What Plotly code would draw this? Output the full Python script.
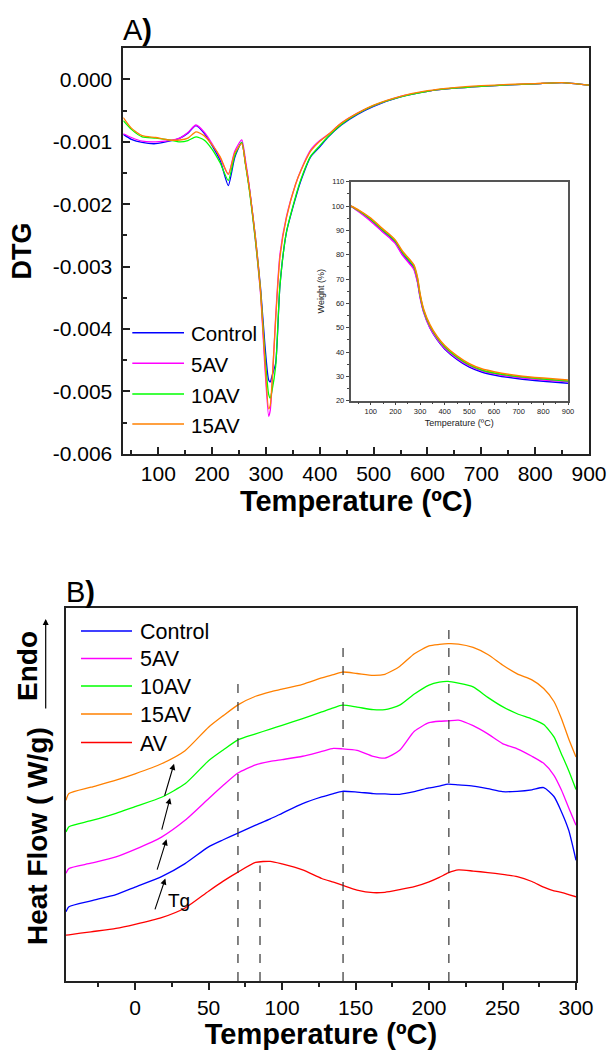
import plotly.graph_objects as go

W, H = 609, 1050
FONT = "Arial, Liberation Sans, sans-serif"

# ---------------- data ----------------
series_names = ["Control", "5AV", "10AV", "15AV"]
dsc_names = ["Control", "5AV", "10AV", "15AV", "AV"]
series_colors = ["#0000FF", "#FF00FF", "#00FF00", "#FF8000", "#FF0000"]

# Panel A: DTG curves
T_dtg = [35, 50, 70, 95, 120, 140, 155, 170, 185, 200, 215, 230, 242, 255, 262, 270, 280, 290, 298,
         305, 308, 311, 318, 326, 338, 355, 365, 383, 400, 416, 440, 470, 500, 550, 600, 650, 700,
         750, 800, 850, 900]
dtg_control = [-0.00088, -0.00096, -0.00101, -0.00103, -0.00099, -0.00094, -0.00086, -0.00074, -0.00086,
               -0.00106, -0.00130, -0.00170, -0.00125, -0.00101, -0.00135, -0.00180, -0.00250, -0.00335,
               -0.00425, -0.00482, -0.00485, -0.00476, -0.00455, -0.00330, -0.00245, -0.00190, -0.00162,
               -0.00124, -0.00108, -0.00092, -0.00073, -0.00056, -0.00043, -0.00028, -0.00019, -0.00014,
               -0.00011, -0.000085, -0.00007, -0.00005, -0.00009]
dtg_5av = [-0.00087, -0.00093, -0.00099, -0.00100, -0.00098, -0.00094, -0.00085, -0.00073, -0.00084,
           -0.00103, -0.00126, -0.00152, -0.00115, -0.00097, -0.00130, -0.00178, -0.00255, -0.00345,
           -0.00460, -0.00540, -0.00530, -0.00495, -0.00380, -0.00280, -0.00220, -0.00168, -0.00145,
           -0.00113, -0.00098, -0.00088, -0.00070, -0.00054, -0.00042, -0.00027, -0.00019, -0.00014,
           -0.00011, -0.000085, -0.00007, -0.00005, -0.00009]
dtg_10av = [-0.00066, -0.00080, -0.00092, -0.00094, -0.00097, -0.00100, -0.00098, -0.00092, -0.00097,
            -0.00112, -0.00134, -0.00162, -0.00122, -0.00101, -0.00137, -0.00183, -0.00255, -0.00340,
            -0.00440, -0.00505, -0.00511, -0.00500, -0.00460, -0.00330, -0.00245, -0.00188, -0.00160,
            -0.00123, -0.00106, -0.00091, -0.00072, -0.00055, -0.00042, -0.00028, -0.00019, -0.00014,
            -0.00011, -0.000085, -0.00007, -0.00005, -0.00009]
dtg_15av = [-0.00061, -0.00078, -0.00090, -0.00093, -0.00097, -0.00097, -0.00094, -0.00084, -0.00090,
            -0.00105, -0.00124, -0.00152, -0.00118, -0.00103, -0.00135, -0.00180, -0.00250, -0.00340,
            -0.00450, -0.00528, -0.00522, -0.00490, -0.00385, -0.00285, -0.00222, -0.00168, -0.00146,
            -0.00115, -0.00099, -0.00088, -0.00070, -0.00054, -0.00041, -0.00027, -0.00018, -0.00013,
            -0.00010, -0.00008, -0.000065, -0.00005, -0.00009]
dtg_ytick_vals = [0.0, -0.001, -0.002, -0.003, -0.004, -0.005, -0.006]
dtg_ytick_text = ["0.000", "-0.001", "-0.002", "-0.003", "-0.004", "-0.005", "-0.006"]

# Inset: TGA weight curves
T_tga = [20, 50, 100, 150, 180, 200, 230, 260, 275, 290, 300, 315, 340, 370, 400, 450, 500, 550, 600,
         700, 800, 900]
tga_control = [100, 98, 94.2, 89.5, 87, 85, 80, 76.5, 74.5, 69, 63, 56.5, 50, 45, 41.3, 37, 33.8, 31.8,
               30.6, 29, 28, 27.2]
tga_5av = [100, 97.8, 93.8, 89.2, 86.6, 84.6, 79.6, 76, 74, 68.5, 62.5, 56.2, 50, 45.2, 41.6, 37.4, 34.3,
           32.3, 31.1, 29.5, 28.5, 27.8]
tga_10av = [100, 98.2, 94.6, 90, 87.5, 85.5, 80.8, 77.2, 75.2, 70, 63.5, 57, 50.8, 45.8, 42.2, 37.9, 34.7,
            32.6, 31.4, 29.9, 28.9, 28.1]
tga_15av = [100, 98.4, 95, 90.5, 88, 86, 81.3, 77.8, 75.8, 70.5, 64, 57.5, 51.3, 46.3, 42.7, 38.4, 35.2,
            33.1, 31.9, 30.3, 29.3, 28.5]

# Panel B: DSC curves (arbitrary, offset heat-flow units)
T_dsc = [-47, -45, -30, -13, 0, 18, 34, 50, 60, 70, 82, 92, 100, 114, 127, 135, 141, 151, 162, 170, 180,
         190, 200, 207, 213, 220, 230, 240, 250, 260, 270, 278, 285, 290, 295, 300]
dsc_control = [18.6, 19.9, 21.5, 23.2, 25.2, 28.0, 31.5, 36.0, 37.9, 39.7, 41.8, 43.5, 45.0, 47.6, 49.4,
               50.3, 50.9, 50.7, 50.3, 50.2, 50.1, 50.8, 51.8, 52.3, 52.8, 52.6, 52.3, 51.6, 50.8, 50.9,
               51.3, 51.9, 49.5, 45.5, 40.5, 32.4]
dsc_5av = [28.9, 30.2, 31.6, 33.3, 35.3, 38.6, 43.1, 48.9, 52.5, 55.8, 58.0, 58.9, 59.4, 60.3, 61.6, 62.4,
           62.3, 61.9, 60.3, 59.8, 61.9, 67.0, 69.3, 69.7, 69.8, 70.0, 68.5, 66.3, 63.7, 62.3, 60.3, 58.4,
           55.2, 51.3, 46.5, 41.8]
dsc_10av = [40.0, 41.4, 43.0, 45.0, 46.8, 49.3, 52.9, 59.1, 62.0, 64.7, 66.3, 67.6, 68.6, 70.4, 72.2, 73.3,
            74.0, 73.5, 72.8, 72.8, 74.0, 77.0, 79.4, 80.2, 80.4, 79.9, 78.9, 76.1, 73.6, 71.7, 70.3, 68.8,
            65.5, 61.0, 56.5, 51.4]
dsc_15av = [48.5, 50.3, 52.0, 53.9, 55.6, 58.3, 61.8, 68.1, 71.2, 74.1, 76.4, 77.6, 78.3, 79.6, 81.3, 82.2,
            82.9, 82.5, 82.0, 82.3, 84.4, 87.8, 89.9, 90.3, 90.5, 90.4, 89.5, 87.6, 84.8, 82.4, 80.8, 78.5,
            75.0, 70.5, 65.0, 60.1]
dsc_av = [12.3, 12.4, 13.2, 14.1, 15.2, 17.0, 19.6, 24.1, 26.8, 29.2, 31.8, 32.1, 31.4, 29.8, 27.5, 26.5,
          25.7, 24.4, 23.7, 23.8, 24.5, 25.3, 26.6, 27.8, 29.0, 29.8, 29.5, 29.1, 28.6, 28.0, 26.7, 25.2,
          24.2, 23.8, 23.2, 22.6]

# Panel B markers: dashed guide lines (temperature, top heat-flow level)
guide_T = [70, 85, 141.5, 213.5]
guide_top = [80.0, 31.0, 91.5, 94.6]
# Tg arrows (tail T, tail y, tip T, tip y)
tg_tail_T = [13.2, 14.7, 17.9, 19.8]
tg_tail_y = [18.8, 29.5, 40.2, 49.3]
tg_tip_T = [20.6, 21.4, 23.8, 26.5]
tg_tip_y = [27.5, 38.0, 49.1, 58.3]

dtg_series = [dtg_control, dtg_5av, dtg_10av, dtg_15av]
tga_series = [tga_control, tga_5av, tga_10av, tga_15av]
dsc_series = [dsc_control, dsc_5av, dsc_10av, dsc_15av, dsc_av]


# ---------------- helpers ----------------
def pxx(x):
    return x / W


def pxy(y):
    return 1 - y / H


fig = go.Figure()

for name, vals, col in zip(series_names, dtg_series, series_colors):
    fig.add_trace(go.Scatter(x=T_dtg, y=vals, name=name, mode="lines", showlegend=False,
                             line=dict(color=col, width=1.3, shape="spline", smoothing=0.6),
                             xaxis="x", yaxis="y"))
for name, vals, col in zip(series_names, tga_series, series_colors):
    fig.add_trace(go.Scatter(x=T_tga, y=vals, name=name, mode="lines", showlegend=False,
                             line=dict(color=col, width=1.5, shape="spline", smoothing=0.6),
                             xaxis="x3", yaxis="y3"))
for name, vals, col in zip(dsc_names, dsc_series, series_colors):
    fig.add_trace(go.Scatter(x=T_dsc, y=vals, name=name, mode="lines", showlegend=False,
                             line=dict(color=col, width=1.3, shape="spline", smoothing=0.6),
                             xaxis="x2", yaxis="y2"))

AXC = "#222222"
tickfont = dict(family=FONT, size=21, color="black")
titlefont = dict(family=FONT, size=29, color="black")

fig.update_layout(
    width=W, height=H, margin=dict(l=0, r=0, t=0, b=0, autoexpand=False),
    paper_bgcolor="white", plot_bgcolor="white", showlegend=False,
    font=dict(family=FONT, color="black"),
    xaxis=dict(domain=[pxx(123.3), pxx(589)], anchor="y", range=[35, 900], dtick=100, tick0=0,
               automargin=False,
               ticks="inside", ticklen=7, tickwidth=1.5, tickcolor=AXC,
               minor=dict(ticks="inside", ticklen=4, dtick=50, tick0=0, tickcolor=AXC, tickwidth=1.5),
               showline=True, linecolor=AXC, linewidth=1.6, mirror=True, showgrid=False, zeroline=False,
               tickfont=tickfont, ticklabelstandoff=0,
               title=dict(text="<b>Temperature (ºC)</b>", font=titlefont, standoff=0)),
    yaxis=dict(domain=[pxy(453.7), pxy(48.3)], anchor="x", range=[-0.006, 0.0005],
               automargin=False,
               tickvals=dtg_ytick_vals, ticktext=dtg_ytick_text,
               ticks="inside", ticklen=7, tickwidth=1.5, tickcolor=AXC,
               minor=dict(ticks="inside", ticklen=4, dtick=0.0005, tick0=0, tickcolor=AXC, tickwidth=1.5),
               showline=True, linecolor=AXC, linewidth=1.6, mirror=True, showgrid=False, zeroline=False,
               tickfont=tickfont, ticklabelstandoff=5,
               title=dict(text="<b>DTG</b>", font=dict(family=FONT, size=27, color="black"), standoff=13)),
    xaxis3=dict(domain=[pxx(350.5), pxx(568)], anchor="y3", range=[18, 900], dtick=100, tick0=0,
                automargin=False,
                ticks="outside", ticklen=3, tickwidth=1, tickcolor="#444",
                minor=dict(ticks="outside", ticklen=2, dtick=50, tick0=0, tickcolor="#444"),
                showline=True, linecolor="#555", linewidth=1.5, mirror=True, showgrid=False, zeroline=False,
                tickfont=dict(family=FONT, size=7.5, color="#222"),
                title=dict(text="Temperature (ºC)", font=dict(family=FONT, size=9, color="#222"), standoff=4)),
    yaxis3=dict(domain=[pxy(400.7), pxy(181.7)], anchor="x3", range=[20, 110], dtick=10,
                automargin=False,
                ticks="outside", ticklen=3, tickwidth=1, tickcolor="#444",
                minor=dict(ticks="outside", ticklen=2, dtick=5, tick0=0, tickcolor="#444"),
                showline=True, linecolor="#555", linewidth=1.5, mirror=True, showgrid=False, zeroline=False,
                tickfont=dict(family=FONT, size=7.5, color="#222"),
                title=dict(text="Weight (%)", font=dict(family=FONT, size=9, color="#222"), standoff=6)),
    xaxis2=dict(domain=[pxx(66), pxx(576)], anchor="y2", range=[-47, 300], dtick=50, tick0=0,
                automargin=False,
                ticks="outside", ticklen=7, tickwidth=1.5, tickcolor=AXC,
                minor=dict(ticks="outside", ticklen=4, dtick=25, tick0=0, tickcolor=AXC, tickwidth=1.5),
                showline=True, linecolor=AXC, linewidth=1.6, mirror=True, showgrid=False, zeroline=False,
                tickfont=tickfont,
                title=dict(text="<b>Temperature (ºC)</b>", font=titlefont, standoff=2)),
    yaxis2=dict(domain=[pxy(981), pxy(608.3)], anchor="x2", range=[0, 100],
                automargin=False,
                showticklabels=False, ticks="",
                showline=True, linecolor=AXC, linewidth=1.6, mirror=True, showgrid=False, zeroline=False),
)

shapes = []
annotations = []

# Panel labels
annotations.append(dict(text="A<b>)</b>", x=pxx(121), y=pxy(30), xref="paper", yref="paper",
                        xanchor="left", yanchor="middle", showarrow=False,
                        font=dict(family=FONT, size=29, color="black")))
annotations.append(dict(text="B<b>)</b>", x=pxx(64), y=pxy(592), xref="paper", yref="paper",
                        xanchor="left", yanchor="middle", showarrow=False,
                        font=dict(family=FONT, size=29, color="black")))

# Legend of panel A (drawn in place)
legA_rows = [332.7, 363.3, 394, 424]
for name, col, yy in zip(series_names, series_colors, legA_rows):
    shapes.append(dict(type="line", xref="paper", yref="paper", x0=pxx(132.3), x1=pxx(184),
                       y0=pxy(yy), y1=pxy(yy), line=dict(color=col, width=1.5)))
    annotations.append(dict(text=name, x=pxx(189), y=pxy(yy + 1), xref="paper", yref="paper",
                            xanchor="left", yanchor="middle", showarrow=False,
                            font=dict(family=FONT, size=20.5, color="black")))

# Legend of panel B
legB_rows = [631, 658.5, 686, 714, 742.5]
for name, col, yy in zip(dsc_names, series_colors, legB_rows):
    shapes.append(dict(type="line", xref="paper", yref="paper", x0=pxx(81), x1=pxx(132),
                       y0=pxy(yy), y1=pxy(yy), line=dict(color=col, width=1.5)))
    annotations.append(dict(text=name, x=pxx(138), y=pxy(yy + 1), xref="paper", yref="paper",
                            xanchor="left", yanchor="middle", showarrow=False,
                            font=dict(family=FONT, size=21.5, color="black")))

# Dashed guide lines in panel B
for gx, gt in zip(guide_T, guide_top):
    shapes.append(dict(type="line", xref="x2", yref="y2", x0=gx, x1=gx, y0=0, y1=gt,
                       line=dict(color="#333333", width=1.2, dash="dash")))

# Tg arrows
for tx, ty, hx, hy in zip(tg_tail_T, tg_tail_y, tg_tip_T, tg_tip_y):
    annotations.append(dict(x=hx, y=hy, ax=tx, ay=ty, xref="x2", yref="y2", axref="x2", ayref="y2",
                            showarrow=True, arrowhead=2, arrowsize=1.1, arrowwidth=1.1,
                            arrowcolor="black", text=""))
annotations.append(dict(text="Tg", x=29.6, y=21.7, xref="x2", yref="y2", showarrow=False,
                        font=dict(family=FONT, size=19, color="black")))

# B y-axis labels
annotations.append(dict(text="<b>Heat Flow ( W/g)</b>", x=pxx(37), y=pxy(836), xref="paper", yref="paper",
                        textangle=-90, showarrow=False, xanchor="center", yanchor="middle",
                        font=dict(family=FONT, size=28, color="black")))
annotations.append(dict(text="<b>Endo</b>", x=pxx(28), y=pxy(666), xref="paper", yref="paper",
                        textangle=-90, showarrow=False, xanchor="center", yanchor="middle",
                        font=dict(family=FONT, size=28, color="black")))
annotations.append(dict(text="", x=pxx(45.7), y=pxy(619), xref="paper", yref="paper",
                        ax=0, ay=91, showarrow=True, arrowhead=2, arrowsize=1, arrowwidth=1.2,
                        arrowcolor="black"))

fig.update_layout(shapes=shapes, annotations=annotations)
fig.write_html("out.html")
